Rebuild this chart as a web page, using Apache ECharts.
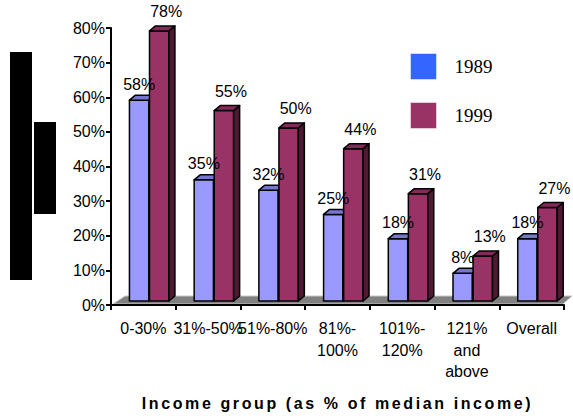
<!DOCTYPE html>
<html>
<head>
<meta charset="utf-8">
<script src="https://cdn.jsdelivr.net/npm/echarts@6/dist/echarts.min.js"></script>
<style>
  html, body { margin: 0; padding: 0; background: #fff; }
  #chart { width: 573px; height: 416px; }
</style>
</head>
<body>
<div id="chart"></div>
<script>
// Income groups (as % of median income)
const categories = ['0-30%', '31%-50%', '51%-80%', '81%-\n100%', '101%-\n120%', '121%\nand\nabove', 'Overall'];
// Share per income group, in percent
const share1989 = [58, 35, 32, 25, 18, 8, 18];
const share1999 = [78, 55, 50, 44, 31, 13, 27];
const seriesNames = ['1989', '1999'];
const axisTitle = 'Income group (as % of median income)';

// Pseudo-3D bar geometry
const DEPTH_X = 6;
const DEPTH_Y = 5;
const LIFT = 4;          // bars stand on the floor slab, slightly above the axis line
const GRID = { left: 111, right: 9, top: 28, bottom: 108 };
const FONT = '"Liberation Sans", Arial, sans-serif';

const palette = [
  { legend: '#3366FF', front: '#9999FF', top: '#7575D2', side: '#4D4D80' },
  { legend: '#993366', front: '#993366', top: '#84295A', side: '#4D1933' }
];
const labelShift = [[0, -16], [7, -19]];

function makeRenderer(slot) {
  const c = palette[slot];
  return function (params, api) {
    const idx = api.value(0);
    const val = api.value(1);
    const top = api.coord([idx, val]);
    const zero = api.coord([idx, 0]);
    const band = api.size([1, 0])[0];
    const w = band * 0.3;
    const x0 = top[0] + band * (slot === 0 ? -0.215 : 0.095);
    const y0 = zero[1] - LIFT;
    const y1 = top[1] - LIFT;
    const edge = { stroke: '#000', lineWidth: 1.5, lineJoin: 'round' };
    return {
      type: 'group',
      children: [
        {
          type: 'rect',
          shape: { x: x0, y: y1, width: w, height: y0 - y1 },
          style: Object.assign({ fill: c.front }, edge)
        },
        {
          type: 'polygon',
          shape: { points: [[x0 + w, y1], [x0 + w + DEPTH_X, y1 - DEPTH_Y], [x0 + w + DEPTH_X, y0 - DEPTH_Y], [x0 + w, y0]] },
          style: Object.assign({ fill: c.side }, edge)
        },
        {
          type: 'polygon',
          shape: { points: [[x0, y1], [x0 + DEPTH_X, y1 - DEPTH_Y], [x0 + w + DEPTH_X, y1 - DEPTH_Y], [x0 + w, y1]] },
          style: Object.assign({ fill: c.top }, edge)
        },
        {
          type: 'text',
          z2: 100,
          style: {
            text: val + '%',
            x: x0 + w / 2 + labelShift[slot][0],
            y: y1 + labelShift[slot][1],
            align: 'center',
            verticalAlign: 'middle',
            fontFamily: FONT,
            fontSize: 16,
            fill: '#000'
          }
        }
      ]
    };
  };
}

const el = document.getElementById('chart');
const chart = echarts.init(el, null, { renderer: 'svg' });

const W = 573, H = 416;
const gx0 = GRID.left, gx1 = W - GRID.right, gy = H - GRID.bottom;

// widen the bold axis title the way the original typesetting spaces it
function spaceTitle() {
  el.querySelectorAll('text').forEach(t => {
    if (t.textContent === axisTitle) t.setAttribute('letter-spacing', '2.6');
  });
}
chart.on('finished', spaceTitle);

chart.setOption({
  animation: false,
  backgroundColor: '#fff',
  grid: GRID,
  legend: {
    orient: 'vertical',
    left: 405,
    top: 48,
    itemWidth: 26,
    itemHeight: 26,
    itemGap: 22,
    itemStyle: { borderWidth: 1, borderColor: 'rgba(255,255,255,0.5)' },
    textStyle: { fontFamily: '"Liberation Serif", "Times New Roman", serif', fontSize: 19, color: '#000', padding: [0, 0, 0, 13] },
    data: seriesNames.map(n => ({ name: n, icon: 'rect' }))
  },
  xAxis: {
    type: 'category',
    data: categories,
    boundaryGap: true,
    name: axisTitle,
    nameLocation: 'middle',
    nameGap: 90,
    nameTextStyle: { fontFamily: FONT, fontSize: 16, fontWeight: 'bold', color: '#000', verticalAlign: 'top' },
    axisLine: { lineStyle: { color: '#000', width: 2 } },
    axisTick: { show: true, length: 5, lineStyle: { color: '#000', width: 2 } },
    axisLabel: { fontFamily: FONT, fontSize: 16, color: '#000', lineHeight: 21.5, margin: 13, interval: 0 },
    splitLine: { show: false }
  },
  yAxis: {
    type: 'value',
    min: 0,
    max: 80,
    interval: 10,
    axisLine: { show: true, lineStyle: { color: '#000', width: 2 } },
    axisTick: { show: true, length: 5, lineStyle: { color: '#000', width: 2 } },
    axisLabel: { fontFamily: FONT, fontSize: 16, color: '#000', margin: 6, formatter: '{value}%' },
    splitLine: { show: false }
  },
  graphic: [
    // floor slab under the bars
    {
      type: 'polygon',
      z: 0,
      shape: { points: [[gx0 + 2, gy - 4], [gx0 + 14, gy - 12], [gx1 + 8, gy - 12], [gx1 - 1, gy - 4]] },
      style: { fill: '#808080', stroke: '#c8c8c8', lineWidth: 1 }
    },
    // side markers
    { type: 'rect', shape: { x: 10, y: 52, width: 22, height: 228 }, style: { fill: '#000' } },
    { type: 'rect', shape: { x: 34, y: 122, width: 22, height: 92 }, style: { fill: '#000' } }
  ],
  series: [share1989, share1999].map((vals, s) => ({
    name: seriesNames[s],
    type: 'custom',
    renderItem: makeRenderer(s),
    itemStyle: { color: palette[s].legend },
    encode: { x: 0, y: 1 },
    data: vals.map((v, i) => [i, v])
  }))
});
spaceTitle();
</script>
</body>
</html>
